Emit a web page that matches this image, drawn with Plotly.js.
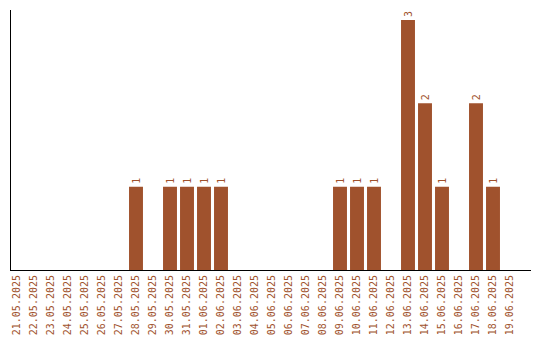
<!DOCTYPE html>
<html>
<head>
<meta charset="utf-8">
<script src="https://cdn.plot.ly/plotly-3.0.1.min.js"></script>
<style>html,body{margin:0;padding:0;background:#fff;}#chart{width:540px;height:340px;}</style>
</head>
<body>
<div id="chart"></div>
<script>
var dates = ["21.05.2025","22.05.2025","23.05.2025","24.05.2025","25.05.2025","26.05.2025","27.05.2025","28.05.2025","29.05.2025","30.05.2025","31.05.2025","01.06.2025","02.06.2025","03.06.2025","04.06.2025","05.06.2025","06.06.2025","07.06.2025","08.06.2025","09.06.2025","10.06.2025","11.06.2025","12.06.2025","13.06.2025","14.06.2025","15.06.2025","16.06.2025","17.06.2025","18.06.2025","19.06.2025"];
var counts = [0,0,0,0,0,0,0,1,0,1,1,1,1,0,0,0,0,0,0,1,1,1,0,3,2,1,0,2,1,0];
var labels = counts.map(function(v){ return v > 0 ? String(v) : ""; });
var color = "#A0522D";
var trace = {
  type: "bar",
  x: dates,
  y: counts,
  text: labels,
  textposition: "outside",
  textangle: -90,
  cliponaxis: false,
  textfont: {family: "DejaVu Sans Mono", size: 10, color: color},
  marker: {color: color},
  hoverinfo: "none"
};
var layout = {
  width: 540, height: 340,
  margin: {l: 11, r: 9, t: 10, b: 70},
  paper_bgcolor: "#fff", plot_bgcolor: "#fff",
  bargap: 0.18,
  showlegend: false,
  xaxis: {
    type: "category",
    range: [-0.353, 30.235],
    showgrid: false, zeroline: false,
    showline: true, linecolor: "#000", linewidth: 1,
    ticks: "", tickangle: -90,
    tickfont: {family: "DejaVu Sans Mono", size: 10, color: color}
  },
  yaxis: {
    range: [0, 3.12],
    showgrid: false, zeroline: false,
    showline: true, linecolor: "#000", linewidth: 1,
    ticks: "", showticklabels: false
  }
};
Plotly.newPlot("chart", [trace], layout, {displayModeBar: false, staticPlot: true});
</script>
</body>
</html>
